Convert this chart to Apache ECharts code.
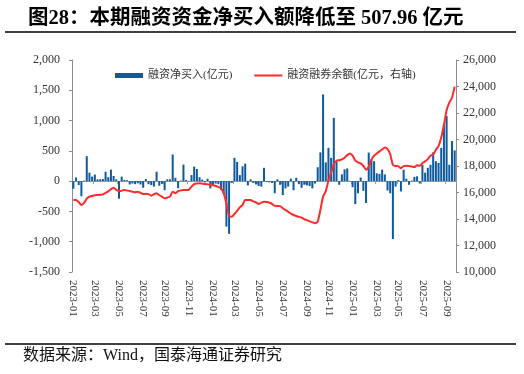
<!DOCTYPE html>
<html>
<head>
<meta charset="utf-8">
<script src="https://cdn.jsdelivr.net/npm/echarts@6/dist/echarts.min.js"></script>
<style>
html,body{margin:0;padding:0;background:#fff;}
#c{width:524px;height:374px;}
</style>
</head>
<body>
<div id="c"></div>
<script>
// Weekly dates (Fridays) from 2023-01-06, 143 weeks
var startDate = '2023-01-06';
var weekCount = 143;
var tickLabels = ['2023-01','2023-03','2023-05','2023-07','2023-09','2023-11','2024-01','2024-03','2024-05','2024-07','2024-09','2024-11','2025-01','2025-03','2025-05','2025-07','2025-09'];

// 融资净买入 (亿元)
var netBuy = [
-125,60,-65,-250,10,412,140,75,108,30,
30,35,155,65,190,85,30,-290,75,20,
15,-55,-40,-50,-35,-55,-110,35,-50,-65,
-90,155,-75,-45,-150,30,30,440,55,-115,
10,273,20,5,100,240,200,65,25,-20,
40,-120,-60,-40,-50,-150,-210,-750,-870,-30,
385,318,100,245,290,-70,30,-30,-55,-80,
-90,220,-15,-20,-30,-200,30,-60,-230,-120,
-90,40,-150,55,-50,-110,-60,-70,-80,-120,
-40,230,475,1432,310,550,385,1045,320,-60,
112,195,210,5,-100,-380,-200,60,-160,-360,
472,360,330,130,120,190,110,-155,-200,-955,
-90,20,-170,190,40,-60,10,70,80,-40,
270,140,220,270,475,330,300,550,935,1075,
270,662,507.96
];

// 融资融券余额 (亿元, 右轴)
var balance = [
15430,15440,15280,15060,15220,15540,15680,15740,15790,15810,
15830,15860,15980,16080,16250,16360,16200,16110,16140,16190,
16150,16110,16060,16010,16060,15980,15890,15900,15880,15760,
15870,15940,15790,15680,15560,15620,15690,16060,15940,16110,
16150,16190,16180,16200,16440,16640,16680,16690,16670,16650,
16620,16570,16540,16490,16420,16320,15940,15190,14230,14170,
14380,14620,14880,15060,15430,15440,15430,15330,15260,15140,
15230,15310,15280,15230,15140,14990,14980,14970,14810,14680,
14550,14400,14300,14230,14160,14100,13980,13920,13820,13760,
13680,13800,14680,15690,16100,16900,17500,18150,18400,18440,
18500,18620,18820,18950,18780,18400,18280,18200,18000,17720,
17950,18450,18780,18950,19100,19250,19400,19280,18900,18080,
18000,17990,17830,17990,18010,18000,17960,17920,18060,18020,
18220,18350,18520,18780,18860,19210,19500,20150,21100,22200,
22780,23150,23990
];

var dates = [];
(function(){
  var p = startDate.split('-');
  var t = Date.UTC(+p[0], +p[1]-1, +p[2]);
  for (var i = 0; i < weekCount; i++) {
    var d = new Date(t + i*7*86400000);
    var s = d.getUTCFullYear() + '-' + String(d.getUTCMonth()+1).padStart(2,'0') + '-' + String(d.getUTCDate()).padStart(2,'0');
    dates.push(s);
  }
})();

function showTick(i) {
  var ym = dates[i].slice(0,7);
  if (tickLabels.indexOf(ym) < 0) return false;
  return i === 0 || dates[i-1].slice(0,7) !== ym;
}
function fmt(v) {
  var neg = v < 0; var a = Math.abs(v);
  var s = String(a).replace(/\B(?=(\d{3})+(?!\d))/g, ',');
  return (neg ? '-' : '') + s;
}

var serif = "'Liberation Serif','Noto Sans CJK SC',serif";
var lineIcon = 'path://M0,0 L0.01,0 L0.01,0.01 Z M0,1.6 L28,1.6 L28,3.4 L0,3.4 Z M0,5 L0.01,5 L0.01,4.99 Z';
var chart = echarts.init(document.getElementById('c'), null, {renderer:'canvas'});
chart.setOption({
  animation: false,
  backgroundColor: '#fff',
  title: {
    text: '图28：本期融资资金净买入额降低至 507.96 亿元',
    left: 23, top: 3,
    textStyle: {fontSize: 20.5, fontWeight: 'bold', color: '#000', fontFamily: serif}
  },
  graphic: [
    {type:'line', shape:{x1:5,y1:32,x2:516,y2:32}, style:{stroke:'#000', lineWidth:1.3}},
    {type:'line', shape:{x1:5,y1:344,x2:516,y2:344}, style:{stroke:'#000', lineWidth:1.3}},
    {type:'text', left:23, top:348, style:{text:'数据来源：Wind，国泰海通证券研究', fontSize:16, fill:'#111', fontFamily: serif}}
  ],
  legend: {
    left: 110, top: 65,
    itemWidth: 28, itemHeight: 5, itemGap: 22,
    textStyle: {fontSize: 11, color: '#333', fontFamily: serif},
    data: [{name:'融资净买入(亿元)', icon:'rect'}, {name:'融资融券余额(亿元，右轴)', icon: lineIcon}]
  },
  grid: {left: 72, right: 68, top: 60, bottom: 102},
  xAxis: [
    {
      type: 'category', data: dates, position: 'bottom',
      axisLine: {show: false, onZero: false},
      axisTick: {show: false},
      axisLabel: {
        interval: function(i){ return showTick(i); },
        formatter: function(v){ return v.slice(0,7); },
        rotate: -90, margin: 8, fontSize: 11, color: '#333', fontFamily: serif
      }
    },
    {
      type: 'category', data: dates, position: 'bottom',
      axisLine: {show: true, onZero: true, lineStyle: {color: '#9a9a9a', width: 1}},
      axisTick: {show: true, length: 3, interval: function(i){ return showTick(i); }, lineStyle: {color: '#9a9a9a'}},
      axisLabel: {show: false}
    }
  ],
  yAxis: [
    {
      type: 'value', min: -1500, max: 2000, interval: 500, position: 'left',
      splitLine: {show: false},
      axisLine: {show: true, lineStyle: {color: '#8c8c8c'}},
      axisTick: {show: true, length: 3, lineStyle: {color: '#8c8c8c'}},
      axisLabel: {margin: 12, fontSize: 12, color: '#333', fontFamily: serif, formatter: fmt}
    },
    {
      type: 'value', min: 10000, max: 26000, interval: 2000, position: 'right',
      splitLine: {show: false},
      axisLine: {show: true, lineStyle: {color: '#8c8c8c'}},
      axisTick: {show: true, length: 3, lineStyle: {color: '#8c8c8c'}},
      axisLabel: {margin: 7, fontSize: 12, color: '#333', fontFamily: serif, formatter: fmt}
    }
  ],
  series: [
    {
      name: '融资净买入(亿元)', type: 'bar', xAxisIndex: 0, yAxisIndex: 0,
      data: netBuy, barWidth: '75%',
      itemStyle: {color: '#0E5A9E'}
    },
    {
      name: '融资融券余额(亿元，右轴)', type: 'line', xAxisIndex: 0, yAxisIndex: 1,
      data: balance, symbol: 'none', smooth: 0.2,
      lineStyle: {color: '#FF2A2A', width: 2},
      itemStyle: {color: '#FF2A2A'}
    }
  ]
});
</script>
</body>
</html>
